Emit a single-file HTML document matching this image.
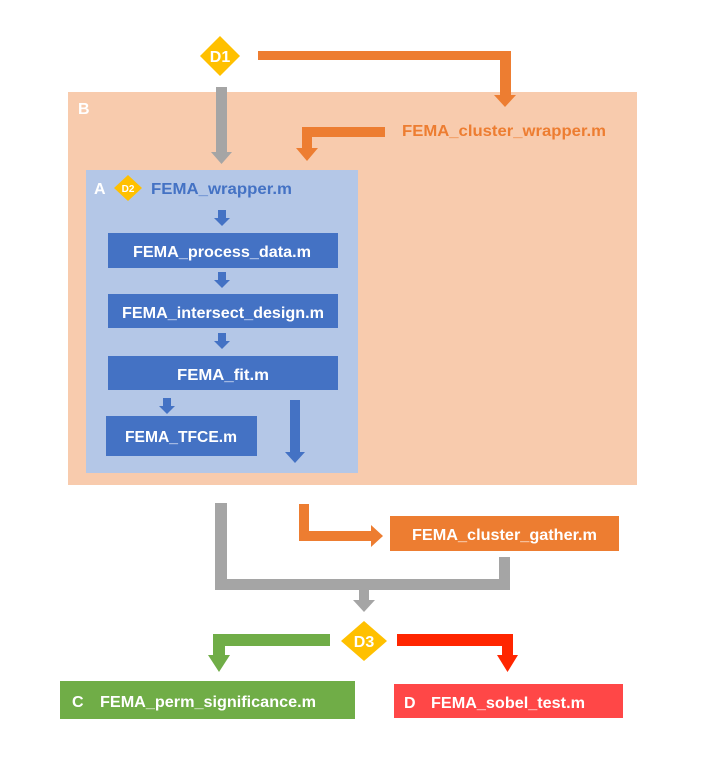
<!DOCTYPE html>
<html><head><meta charset="utf-8"><style>
html,body{margin:0;padding:0;background:#fff;}
svg{display:block;}
text{font-family:"Liberation Sans",sans-serif;font-weight:bold;}
</style></head><body>
<svg width="720" height="778" viewBox="0 0 720 778" xmlns="http://www.w3.org/2000/svg">
<rect width="720" height="778" fill="#fff"/>
<!-- pink box B -->
<rect x="68" y="92" width="569" height="393" fill="#F8CBAD"/>
<text x="78" y="114" font-size="16" fill="#fff">B</text>
<!-- D1 -->
<polygon points="220,36 240,56 220,76 200,56" fill="#FFC000"/>
<text x="220" y="62" font-size="16" fill="#fff" text-anchor="middle">D1</text>
<!-- orange top connector -->
<polygon points="258,51 511,51 511,95 516,95 505,107 494,95 500,95 500,60 258,60" fill="#ED7D31"/>
<!-- gray arrow -->
<polygon points="216,87 227,87 227,152 232,152 221.5,164 211,152 216,152" fill="#A5A5A5"/>
<!-- orange L -->
<polygon points="385,127 385,137 312,137 312,148 318,148 307,161 296,148 302,148 302,127" fill="#ED7D31"/>
<text x="402" y="136" font-size="16" fill="#ED7D31" textLength="204" lengthAdjust="spacingAndGlyphs">FEMA_cluster_wrapper.m</text>
<!-- blue box A -->
<rect x="86" y="170" width="272" height="303" fill="#B4C7E7"/>
<text x="94" y="194" font-size="16" fill="#fff">A</text>
<polygon points="128,175 142,188 128,201 114,188" fill="#FFC000"/>
<text x="128" y="192" font-size="10" fill="#fff" text-anchor="middle">D2</text>
<text x="151" y="194" font-size="16" fill="#4472C4" textLength="141" lengthAdjust="spacingAndGlyphs">FEMA_wrapper.m</text>
<!-- small arrows -->
<g fill="#4472C4">
<polygon points="218,210 226,210 226,218 230,218 222,226 214,218 218,218"/>
<polygon points="218,272 226,272 226,280 230,280 222,288 214,280 218,280"/>
<polygon points="218,333 226,333 226,341 230,341 222,349 214,341 218,341"/>
<polygon points="163,398 171,398 171,406 175,406 167,414 159,406 163,406"/>
<polygon points="290,400 300,400 300,452 305,452 295,463 285,452 290,452"/>
<rect x="108" y="233" width="230" height="35"/>
<rect x="108" y="294" width="230" height="34"/>
<rect x="108" y="356" width="230" height="34"/>
<rect x="106" y="416" width="151" height="40"/>
</g>
<g fill="#fff" font-size="16">
<text x="133" y="257" textLength="178" lengthAdjust="spacingAndGlyphs">FEMA_process_data.m</text>
<text x="122" y="318" textLength="202" lengthAdjust="spacingAndGlyphs">FEMA_intersect_design.m</text>
<text x="177" y="380" textLength="92" lengthAdjust="spacingAndGlyphs">FEMA_fit.m</text>
<text x="125" y="442" textLength="112" lengthAdjust="spacingAndGlyphs">FEMA_TFCE.m</text>
</g>
<!-- bottom gray -->
<polygon points="215,503 227,503 227,579 499,579 499,557 510,557 510,590 369,590 369,600 375,600 364,612 353,600 359,600 359,590 215,590" fill="#A5A5A5"/>
<!-- orange to gather -->
<polygon points="299,504 309,504 309,531 371,531 371,525 383,536 371,547 371,541 299,541" fill="#ED7D31"/>
<rect x="390" y="516" width="229" height="35" fill="#ED7D31"/>
<text x="412" y="540" font-size="16" fill="#fff" textLength="185" lengthAdjust="spacingAndGlyphs">FEMA_cluster_gather.m</text>
<!-- D3 -->
<polygon points="364,621 387,641 364,661 341,641" fill="#FFC000"/>
<text x="364" y="647" font-size="16" fill="#fff" text-anchor="middle">D3</text>
<!-- green -->
<polygon points="330,634 330,646 225,646 225,655 230,655 219,672 208,655 213,655 213,634" fill="#70AD47"/>
<!-- red -->
<polygon points="397,634 513,634 513,655 518,655 507.5,672 497,655 502,655 502,646 397,646" fill="#FF2600"/>
<rect x="60" y="681" width="295" height="38" fill="#70AD47"/>
<text x="72" y="707" font-size="16" fill="#fff">C</text>
<text x="100" y="707" font-size="16" fill="#fff" textLength="216" lengthAdjust="spacingAndGlyphs">FEMA_perm_significance.m</text>
<rect x="394" y="684" width="229" height="34" fill="#FF4747"/>
<text x="404" y="708" font-size="16" fill="#fff">D</text>
<text x="431" y="708" font-size="16" fill="#fff" textLength="154" lengthAdjust="spacingAndGlyphs">FEMA_sobel_test.m</text>
</svg>
</body></html>
